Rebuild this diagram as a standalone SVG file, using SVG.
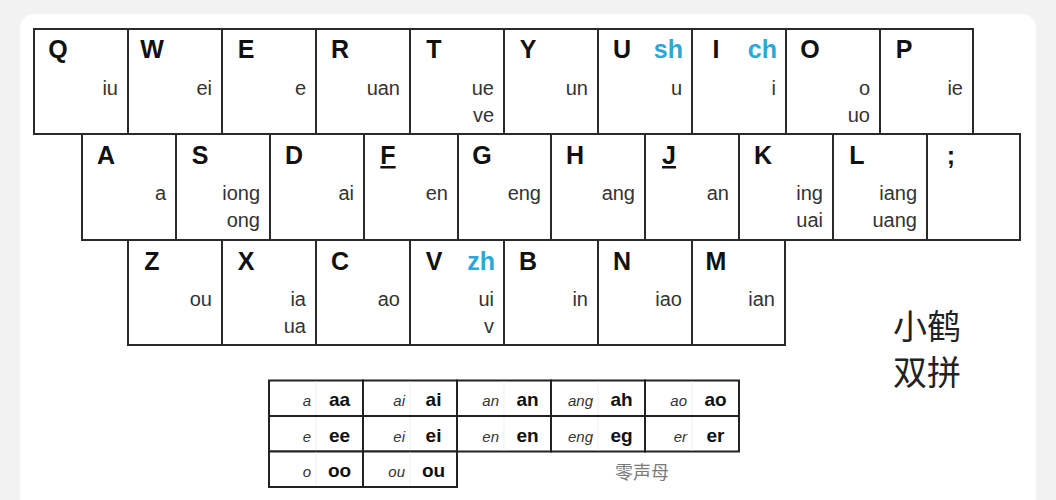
<svg xmlns="http://www.w3.org/2000/svg" width="1056" height="500" viewBox="0 0 1056 500">
<style>
.key{fill:#fff;stroke:#2a2a2a;stroke-width:2}
.L{font-family:"Liberation Sans",Arial,sans-serif;font-weight:bold;font-size:25px;fill:#111;text-anchor:middle}
.B{font-family:"Liberation Sans",Arial,sans-serif;font-weight:bold;font-size:25px;fill:#2fa6d9;text-anchor:end}
.F{font-family:"Liberation Sans",Arial,sans-serif;font-size:20px;fill:#333;text-anchor:end}
.cell{fill:#fff;stroke:#222;stroke-width:2}
.div{stroke:#efefef;stroke-width:1}
.I{font-family:"Liberation Sans",Arial,sans-serif;font-style:italic;font-size:15px;fill:#333;text-anchor:end}
.T{font-family:"Liberation Sans",Arial,sans-serif;font-weight:bold;font-size:19px;fill:#111;text-anchor:middle}
.cn{font-family:"Noto Sans CJK SC",sans-serif;font-size:34px;fill:#222}
.zs{font-family:"Noto Sans CJK SC",sans-serif;font-size:18px;fill:#7a7a7a}
</style>
<rect x="0" y="0" width="1056" height="500" fill="#f2f2f2"/>
<rect x="20" y="14" width="1016" height="510" rx="14" fill="#fff"/>

<g id="row-top">
<g id="key-Q"><rect class="key" x="34" y="29" width="94" height="105"/><text class="L" x="58" y="58">Q</text><text class="F" x="118" y="95">iu</text></g>
<g id="key-W"><rect class="key" x="128" y="29" width="94" height="105"/><text class="L" x="152" y="58">W</text><text class="F" x="212" y="95">ei</text></g>
<g id="key-E"><rect class="key" x="222" y="29" width="94" height="105"/><text class="L" x="246" y="58">E</text><text class="F" x="306" y="95">e</text></g>
<g id="key-R"><rect class="key" x="316" y="29" width="94" height="105"/><text class="L" x="340" y="58">R</text><text class="F" x="400" y="95">uan</text></g>
<g id="key-T"><rect class="key" x="410" y="29" width="94" height="105"/><text class="L" x="434" y="58">T</text><text class="F" x="494" y="95">ue</text><text class="F" x="494" y="122">ve</text></g>
<g id="key-Y"><rect class="key" x="504" y="29" width="94" height="105"/><text class="L" x="528" y="58">Y</text><text class="F" x="588" y="95">un</text></g>
<g id="key-U"><rect class="key" x="598" y="29" width="94" height="105"/><text class="L" x="622" y="58">U</text><text class="B" x="683" y="58">sh</text><text class="F" x="682" y="95">u</text></g>
<g id="key-I"><rect class="key" x="692" y="29" width="94" height="105"/><text class="L" x="716" y="58">I</text><text class="B" x="777" y="58">ch</text><text class="F" x="776" y="95">i</text></g>
<g id="key-O"><rect class="key" x="786" y="29" width="94" height="105"/><text class="L" x="810" y="58">O</text><text class="F" x="870" y="95">o</text><text class="F" x="870" y="122">uo</text></g>
<g id="key-P"><rect class="key" x="880" y="29" width="93" height="105"/><text class="L" x="904" y="58">P</text><text class="F" x="963" y="95">ie</text></g>
</g>

<g id="row-middle">
<g id="key-A"><rect class="key" x="82" y="134" width="94" height="106"/><text class="L" x="106" y="164">A</text><text class="F" x="166" y="200">a</text></g>
<g id="key-S"><rect class="key" x="176" y="134" width="94" height="106"/><text class="L" x="200" y="164">S</text><text class="F" x="260" y="200">iong</text><text class="F" x="260" y="227">ong</text></g>
<g id="key-D"><rect class="key" x="270" y="134" width="94" height="106"/><text class="L" x="294" y="164">D</text><text class="F" x="354" y="200">ai</text></g>
<g id="key-F"><rect class="key" x="364" y="134" width="94" height="106"/><text class="L" x="388" y="164" text-decoration="underline">F</text><text class="F" x="448" y="200">en</text></g>
<g id="key-G"><rect class="key" x="458" y="134" width="93" height="106"/><text class="L" x="482" y="164">G</text><text class="F" x="541" y="200">eng</text></g>
<g id="key-H"><rect class="key" x="551" y="134" width="94" height="106"/><text class="L" x="575" y="164">H</text><text class="F" x="635" y="200">ang</text></g>
<g id="key-J"><rect class="key" x="645" y="134" width="94" height="106"/><text class="L" x="669" y="164" text-decoration="underline">J</text><text class="F" x="729" y="200">an</text></g>
<g id="key-K"><rect class="key" x="739" y="134" width="94" height="106"/><text class="L" x="763" y="164">K</text><text class="F" x="823" y="200">ing</text><text class="F" x="823" y="227">uai</text></g>
<g id="key-L"><rect class="key" x="833" y="134" width="94" height="106"/><text class="L" x="857" y="164">L</text><text class="F" x="917" y="200">iang</text><text class="F" x="917" y="227">uang</text></g>
<g id="key-semicolon"><rect class="key" x="927" y="134" width="93" height="106"/><text class="L" x="951" y="164">;</text></g>
</g>

<g id="row-bottom">
<g id="key-Z"><rect class="key" x="128" y="240" width="94" height="105"/><text class="L" x="152" y="270">Z</text><text class="F" x="212" y="306">ou</text></g>
<g id="key-X"><rect class="key" x="222" y="240" width="94" height="105"/><text class="L" x="246" y="270">X</text><text class="F" x="306" y="306">ia</text><text class="F" x="306" y="333">ua</text></g>
<g id="key-C"><rect class="key" x="316" y="240" width="94" height="105"/><text class="L" x="340" y="270">C</text><text class="F" x="400" y="306">ao</text></g>
<g id="key-V"><rect class="key" x="410" y="240" width="94" height="105"/><text class="L" x="434" y="270">V</text><text class="B" x="495" y="270">zh</text><text class="F" x="494" y="306">ui</text><text class="F" x="494" y="333">v</text></g>
<g id="key-B"><rect class="key" x="504" y="240" width="94" height="105"/><text class="L" x="528" y="270">B</text><text class="F" x="588" y="306">in</text></g>
<g id="key-N"><rect class="key" x="598" y="240" width="94" height="105"/><text class="L" x="622" y="270">N</text><text class="F" x="682" y="306">iao</text></g>
<g id="key-M"><rect class="key" x="692" y="240" width="93" height="105"/><text class="L" x="716" y="270">M</text><text class="F" x="775" y="306">ian</text></g>
</g>

<g id="title">
<text class="cn" x="893" y="339">小鹤</text>
<text class="cn" x="893" y="385">双拼</text>
</g>

<g id="zero-initial-table">
<g id="cell-a"><rect class="cell" x="269" y="380.5" width="94" height="35.5"/><line class="div" x1="316" y1="381.5" x2="316" y2="415"/><text class="I" x="311" y="406">a</text><text class="T" x="339.5" y="406">aa</text></g>
<g id="cell-ai"><rect class="cell" x="363" y="380.5" width="94" height="35.5"/><line class="div" x1="410" y1="381.5" x2="410" y2="415"/><text class="I" x="405" y="406">ai</text><text class="T" x="433.5" y="406">ai</text></g>
<g id="cell-an"><rect class="cell" x="457" y="380.5" width="94" height="35.5"/><line class="div" x1="504" y1="381.5" x2="504" y2="415"/><text class="I" x="499" y="406">an</text><text class="T" x="527.5" y="406">an</text></g>
<g id="cell-ang"><rect class="cell" x="551" y="380.5" width="94" height="35.5"/><line class="div" x1="598" y1="381.5" x2="598" y2="415"/><text class="I" x="593" y="406">ang</text><text class="T" x="621.5" y="406">ah</text></g>
<g id="cell-ao"><rect class="cell" x="645" y="380.5" width="94" height="35.5"/><line class="div" x1="692" y1="381.5" x2="692" y2="415"/><text class="I" x="687" y="406">ao</text><text class="T" x="715.5" y="406">ao</text></g>

<g id="cell-e"><rect class="cell" x="269" y="416" width="94" height="35.5"/><line class="div" x1="316" y1="417" x2="316" y2="450.5"/><text class="I" x="311" y="441.5">e</text><text class="T" x="339.5" y="441.5">ee</text></g>
<g id="cell-ei"><rect class="cell" x="363" y="416" width="94" height="35.5"/><line class="div" x1="410" y1="417" x2="410" y2="450.5"/><text class="I" x="405" y="441.5">ei</text><text class="T" x="433.5" y="441.5">ei</text></g>
<g id="cell-en"><rect class="cell" x="457" y="416" width="94" height="35.5"/><line class="div" x1="504" y1="417" x2="504" y2="450.5"/><text class="I" x="499" y="441.5">en</text><text class="T" x="527.5" y="441.5">en</text></g>
<g id="cell-eng"><rect class="cell" x="551" y="416" width="94" height="35.5"/><line class="div" x1="598" y1="417" x2="598" y2="450.5"/><text class="I" x="593" y="441.5">eng</text><text class="T" x="621.5" y="441.5">eg</text></g>
<g id="cell-er"><rect class="cell" x="645" y="416" width="94" height="35.5"/><line class="div" x1="692" y1="417" x2="692" y2="450.5"/><text class="I" x="687" y="441.5">er</text><text class="T" x="715.5" y="441.5">er</text></g>

<g id="cell-o"><rect class="cell" x="269" y="451.5" width="94" height="35.5"/><line class="div" x1="316" y1="452.5" x2="316" y2="486"/><text class="I" x="311" y="477">o</text><text class="T" x="339.5" y="477">oo</text></g>
<g id="cell-ou"><rect class="cell" x="363" y="451.5" width="94" height="35.5"/><line class="div" x1="410" y1="452.5" x2="410" y2="486"/><text class="I" x="405" y="477">ou</text><text class="T" x="433.5" y="477">ou</text></g>

<text class="zs" x="615" y="479">零声母</text>
</g>

<g id="connectors"></g>
</svg>
